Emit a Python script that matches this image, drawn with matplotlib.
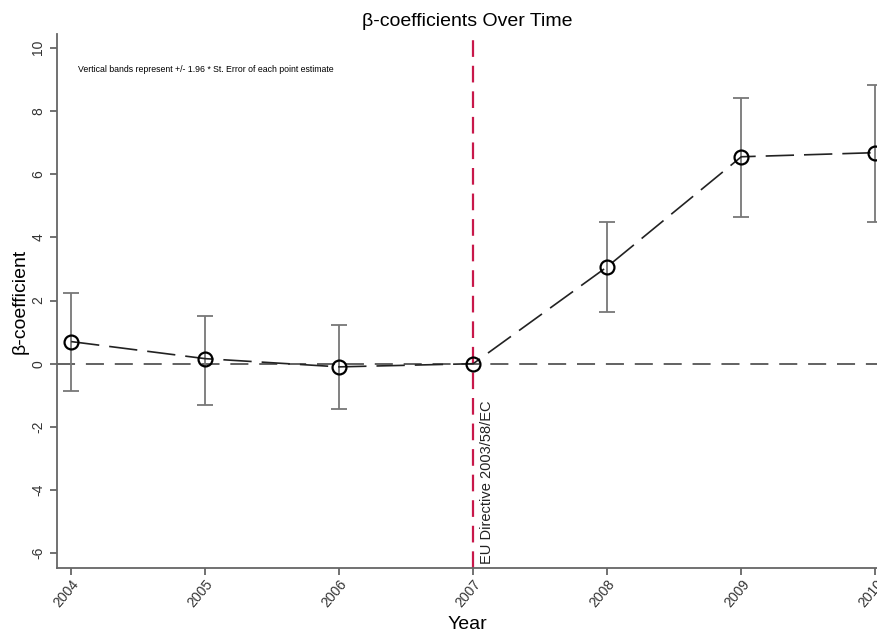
import matplotlib
matplotlib.use("Agg")
import matplotlib.pyplot as plt

plt.rcParams["font.family"] = ["Liberation Sans", "DejaVu Sans"]

years = [2004, 2005, 2006, 2007, 2008, 2009, 2010]
coef = [0.70, 0.16, -0.10, 0.0, 3.07, 6.55, 6.68]
ci_low = [-0.85, -1.30, -1.42, 0.0, 1.65, 4.65, 4.49]
ci_high = [2.25, 1.52, 1.23, 0.0, 4.49, 8.42, 8.83]
y_ticks = [-6, -4, -2, 0, 2, 4, 6, 8, 10]
event_year = 2007
event_label = "EU Directive 2003/58/EC"

fig = plt.figure(figsize=(8.78, 6.33), dpi=100)
ax = fig.add_axes([0.065, 0.103, 0.935, 0.843])

grey = "#666666"

# reference lines
ax.axhline(0, color="#555555", linestyle=(0, (10, 6)), linewidth=1.3, zorder=1)
ax.axvline(event_year, color="#c8184a", linestyle=(0, (7.5, 4)), linewidth=1.6, zorder=2)

# confidence bands, skip base year
for x, lo, hi in zip(years, ci_low, ci_high):
    if hi == lo:
        continue
    ax.errorbar([x], [(lo + hi) / 2], yerr=[[(hi - lo) / 2], [(hi - lo) / 2]],
                fmt="none", ecolor="#777777", elinewidth=1.3, capsize=5.5,
                capthick=1.3, zorder=3)

ax.plot(years, coef, color="#222222", linestyle=(0, (17, 6)), linewidth=1.2,
        marker="o", markersize=10, markerfacecolor="none",
        markeredgecolor="black", markeredgewidth=1.6, zorder=4)

ax.text(event_year + 0.05, -6.35, event_label, rotation=90, fontsize=10.5,
        ha="left", va="bottom", color="#222222")
ax.text(2004.05, 9.3, "Vertical bands represent +/- 1.96 * St. Error of each point estimate",
        fontsize=6.3, ha="left", va="center", color="black")

ax.set_xlim(2003.895, 2010.02)
ax.set_ylim(-6.46, 10.43)
ax.set_xticks(years)
ax.set_xticklabels([str(y) for y in years], rotation=50, ha="right",
                   rotation_mode="anchor", fontsize=10, color="#333333")
ax.set_yticks(y_ticks)
ax.set_yticklabels([str(t) for t in y_ticks], rotation=90, va="center",
                   fontsize=10, color="#333333")

for side in ["top", "right"]:
    ax.spines[side].set_visible(False)
for side in ["left", "bottom"]:
    ax.spines[side].set_color(grey)
    ax.spines[side].set_linewidth(1.3)
ax.tick_params(axis="both", colors=grey, width=1.3, length=5, labelcolor="#333333")
ax.tick_params(axis="x", pad=2)

ax.set_title("β-coefficients Over Time", fontsize=14, pad=6)
ax.set_xlabel("Year", fontsize=14, labelpad=4)
ax.set_ylabel("β-coefficient", fontsize=14, labelpad=2)

fig.savefig("out.png", dpi=100)
